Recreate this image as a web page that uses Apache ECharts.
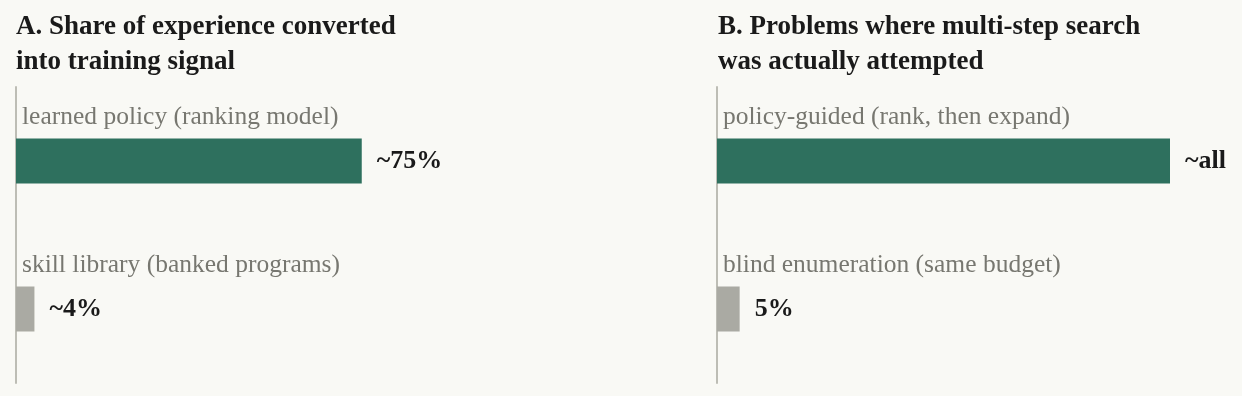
<!DOCTYPE html>
<html>
<head>
<meta charset="utf-8">
<script src="https://cdn.jsdelivr.net/npm/echarts@6/dist/echarts.min.js"></script>
<style>
  html, body { margin: 0; padding: 0; background: #f9f9f5; }
  #main { width: 1242px; height: 396px; }
</style>
</head>
<body>
<div id="main"></div>
<script>
// panel A
var catsA = ['learned policy (ranking model)', 'skill library (banked programs)'];
var valsA = [75, 4];
var textA = ['~75%', '~4%'];
// panel B
var catsB = ['policy-guided (rank, then expand)', 'blind enumeration (same budget)'];
var valsB = [100, 5];
var textB = ['~all', '5%'];

var colors = ['#2e705e', '#aaaaa3'];
var font = '"Liberation Serif", "Times New Roman", serif';

var myChart = echarts.init(document.getElementById('main'));

function yAx(idx, cats) {
    return {
        type: 'category',
        gridIndex: idx,
        data: cats,
        inverse: true,
        axisLine: { show: true, lineStyle: { color: '#bdbdb5', width: 2 } },
        axisTick: { show: false },
        axisLabel: {
            inside: true,
            margin: 6,
            color: '#777770',
            fontFamily: font,
            fontSize: 25.5,
            verticalAlign: 'bottom',
            padding: [0, 0, 31, 0]
        }
    };
}

function xAx(idx) {
    return {
        type: 'value', gridIndex: idx, min: 0, max: 100,
        show: false, splitLine: { show: false }
    };
}

function barSeries(idx, vals, texts) {
    return {
        type: 'bar',
        xAxisIndex: idx,
        yAxisIndex: idx,
        barWidth: 45,
        data: vals.map(function (v, i) {
            return { value: v, itemStyle: { color: colors[i] } };
        }),
        label: {
            show: true,
            position: 'right',
            distance: 15,
            color: '#1a1a1a',
            fontFamily: font,
            fontWeight: 'bold',
            fontSize: 26,
            formatter: function (p) { return texts[p.dataIndex]; }
        },
        silent: true
    };
}

var option = {
    backgroundColor: '#f9f9f5',
    animation: false,
    title: [{
        text: 'A. Share of experience converted\ninto training signal',
        left: 16, top: 10, padding: 0,
        textStyle: { fontFamily: font, fontWeight: 'bold', fontSize: 27, lineHeight: 35, color: '#1a1a1a' }
    }, {
        text: 'B. Problems where multi-step search\nwas actually attempted',
        left: 718, top: 10, padding: 0,
        textStyle: { fontFamily: font, fontWeight: 'bold', fontSize: 27, lineHeight: 35, color: '#1a1a1a' }
    }],
    grid: [
        { left: 16, top: 87, width: 461, height: 296 },
        { left: 717, top: 87, width: 453, height: 296 }
    ],
    xAxis: [xAx(0), xAx(1)],
    yAxis: [yAx(0, catsA), yAx(1, catsB)],
    series: [barSeries(0, valsA, textA), barSeries(1, valsB, textB)]
};

myChart.setOption(option);
window.addEventListener('resize', function () {
    myChart.resize();
});
</script>
</body>
</html>
